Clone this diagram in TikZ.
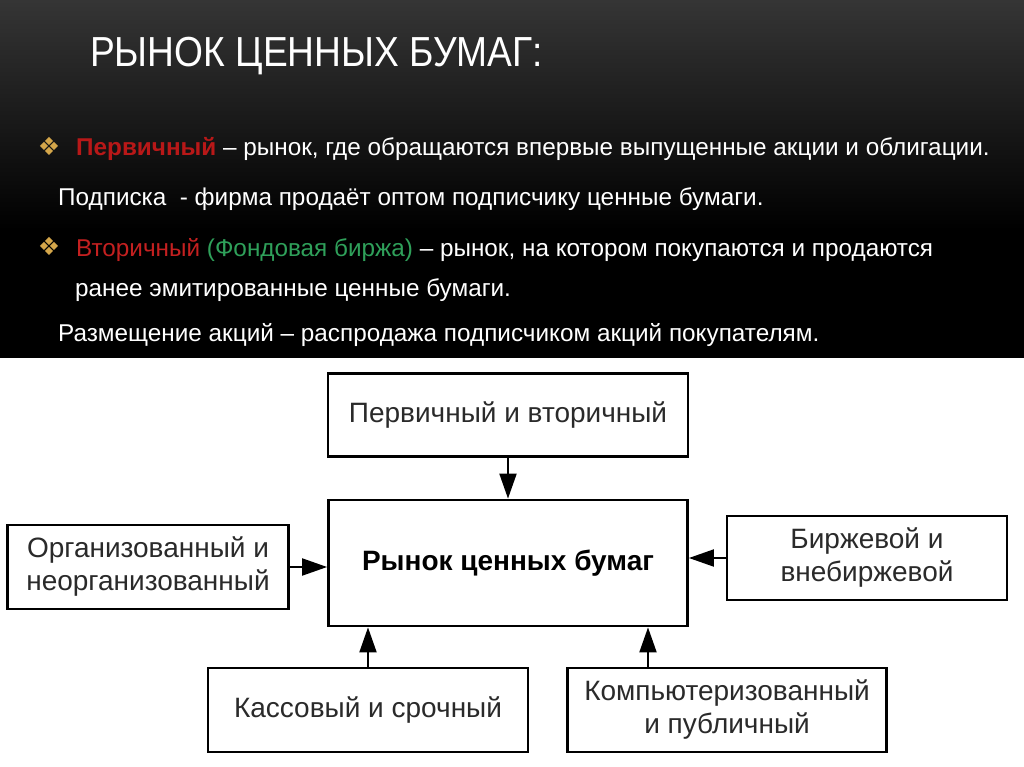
\documentclass[tikz,border=0pt]{standalone}
\usepackage{fontspec}
\setmainfont{Liberation Sans}
\newfontfamily\symfont{DejaVu Sans}
\usetikzlibrary{arrows.meta}
\definecolor{gold}{HTML}{D4A64A}
\definecolor{dred}{HTML}{B81818}
\definecolor{mred}{HTML}{C42020}
\definecolor{fgreen}{HTML}{2FA05A}
\definecolor{boxtext}{HTML}{2A2A2A}
\definecolor{topgray}{HTML}{353535}
\begin{document}
\begin{tikzpicture}[x=1pt,y=-1pt,
  box/.style={draw=black,line width=2.8pt,fill=white,text=boxtext,align=center,inner sep=0pt,font=\fontsize{28}{33}\selectfont},
  arr/.style={line width=2pt,-{Triangle[length=25pt,width=17pt]}},
  txtline/.style={text=white,anchor=base west,font=\fontsize{24.3}{28}\selectfont,inner sep=0pt},
  bul/.style={text=gold,font=\symfont\fontsize{25}{27}\selectfont,inner sep=0pt}]
\useasboundingbox (0,0) rectangle (1024,767);
\fill[white] (0,0) rectangle (1024,767);
\shade[top color=topgray,bottom color=black] (0,0) rectangle (1024,230);
\fill[black] (0,229) rectangle (1024,358);

% title
\node[anchor=base west,text=white,inner sep=0pt,font=\fontsize{42}{46}\selectfont] (title) at (90,67) {\scalebox{0.885}[1]{РЫНОК ЦЕННЫХ БУМАГ:}};

% bullets and text
\node[bul] (b1) at (49,146) {❖};
\node[txtline] (l1) at (76,156) {{\color{dred}\bfseries Первичный} – рынок, где обращаются впервые выпущенные акции и облигации.};
\node[txtline] (l2) at (58,206) {Подписка \ - фирма продаёт оптом подписчику ценные бумаги.};
\node[bul] (b2) at (49,246) {❖};
\node[txtline] (l3) at (76,256) {{\color{mred}Вторичный} {\color{fgreen}(Фондовая биржа)} – рынок, на котором покупаются и продаются};
\node[txtline] (l4) at (75,296) {ранее эмитированные ценные бумаги.};
\node[txtline] (l5) at (58,341) {Размещение акций – распродажа подписчиком акций покупателям.};

% diagram
\node[box,minimum width=360pt,minimum height=83pt] (top) at (508,415) {Первичный и вторичный};
\node[box,minimum width=359pt,minimum height=126pt,text=black,font=\fontsize{28}{33}\selectfont\bfseries] (main) at (508,563) {Рынок ценных бумаг};
\node[box,minimum width=281pt,minimum height=84pt] (left) at (148,567) {Организованный и\\неорганизованный};
\node[box,minimum width=280pt,minimum height=84pt] (right) at (867,558) {Биржевой и\\внебиржевой};
\node[box,minimum width=320pt,minimum height=84pt] (bl) at (368,710) {Кассовый и срочный};
\node[box,minimum width=319pt,minimum height=84pt] (br) at (727,710) {Компьютеризованный\\и публичный};

\coordinate (bra) at ([xshift=-79pt]br.north);
\draw[arr] (top.south) -- (main.north);
\draw[arr] (left.east) -- (left.east -| main.west);
\draw[arr] (right.west) -- (right.west -| main.east);
\draw[arr] (bl.north) -- (bl.north |- main.south);
\draw[arr] (bra) -- (bra |- main.south);
\end{tikzpicture}
\end{document}
